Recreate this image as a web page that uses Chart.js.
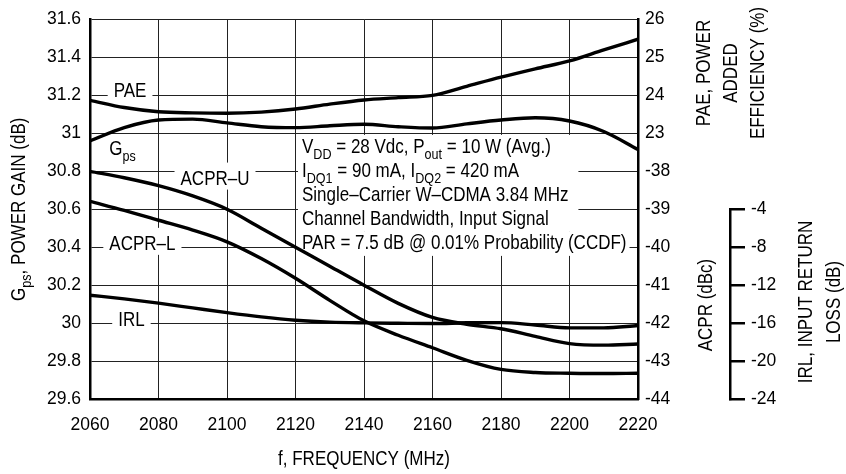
<!DOCTYPE html>
<html>
<head>
<meta charset="utf-8">
<script src="https://cdn.jsdelivr.net/npm/chart.js@4.4.1/dist/chart.umd.min.js"></script>
<style>
    html, body { margin: 0; padding: 0; background: #fff; }
    #wrap { width: 846px; height: 474px; position: relative; }
</style>
</head>
<body>
<div id="wrap"><canvas id="chart"></canvas></div>
<script>
// Frequency points (MHz)
const freqs = [2060, 2070, 2080, 2090, 2100, 2110, 2120, 2130, 2140, 2150, 2160, 2170, 2180, 2190, 2200, 2210, 2220];

// Series
const gps   = [30.96, 31.03, 31.07, 31.075, 31.055, 31.035, 31.03, 31.04, 31.048, 31.035, 31.028, 31.05, 31.07, 31.082, 31.065, 31.01, 30.915];
const pae   = [23.87, 23.68, 23.57, 23.54, 23.53, 23.56, 23.64, 23.77, 23.88, 23.94, 24.0, 24.24, 24.48, 24.7, 24.91, 25.2, 25.48];
const acprU = [-38.0, -38.17, -38.38, -38.65, -39.0, -39.5, -40.0, -40.5, -41.0, -41.48, -41.85, -42.03, -42.15, -42.35, -42.54, -42.58, -42.55];
const acprL = [-38.79, -39.03, -39.29, -39.55, -39.86, -40.3, -40.82, -41.4, -41.94, -42.32, -42.65, -42.98, -43.22, -43.3, -43.32, -43.33, -43.32];
const irl   = [-13.06, -13.45, -13.9, -14.4, -14.9, -15.35, -15.7, -15.9, -15.98, -16.02, -16.05, -15.97, -15.95, -16.2, -16.5, -16.5, -16.25];

// Tick labels shown on the right-hand axes
const paeTicks  = [23, 24, 25, 26];
const acprTicks = [-38, -39, -40, -41, -42, -43, -44];
const irlTicks  = [-4, -8, -12, -16, -20, -24];

const FONT = "'Liberation Sans', Arial, Helvetica, sans-serif";
const TICK_FONT = { family: FONT, size: 17.5 };
const TXT = 17;
const STRETCH = 1.16;   // original lettering is taller than it is wide

const pts = vals => freqs.map((f, i) => ({ x: f, y: vals[i] }));

// Curve labels: text centre (MHz) and baseline (Gps dB units)
const curveLabels = [
    { parts: [['PAE']], f: 2071.7, g: 31.194, bg: true },
    { parts: [['G'], ['ps', true]], f: 2069.5, g: 30.886, bg: false },
    { parts: [['ACPR\u2013U']], f: 2096.5, g: 30.730, bg: true },
    { parts: [['ACPR\u2013L']], f: 2075.3, g: 30.386, bg: true },
    { parts: [['IRL']], f: 2072.1, g: 29.985, bg: true }
];

const boxRows = [
    [['V'], ['DD', true], [' = 28 Vdc, P'], ['out', true], [' = 10 W (Avg.)']],
    [['I'], ['DQ1', true], [' = 90 mA, I'], ['DQ2', true], [' = 420 mA']],
    [['Single\u2013Carrier W\u2013CDMA 3.84 MHz']],
    [['Channel Bandwidth, Input Signal']],
    [['PAR = 7.5 dB @ 0.01% Probability (CCDF)']]
];
const boxAnchor = { f: 2121.9, g: 30.897, lineHeight: 24 };

function richWidth(ctx, parts, size) {
    let w = 0;
    parts.forEach(([t, sub]) => {
        ctx.font = (sub ? size * 0.74 : size) + 'px ' + FONT;
        w += ctx.measureText(t).width;
    });
    return w;
}

function drawRich(ctx, parts, x, y, size) {
    let cx = x;
    parts.forEach(([t, sub]) => {
        ctx.font = (sub ? size * 0.74 : size) + 'px ' + FONT;
        ctx.save();
        ctx.translate(cx, sub ? y + size * 0.33 : y);
        ctx.scale(1, STRETCH);
        ctx.fillText(t, 0, 0);
        ctx.restore();
        cx += ctx.measureText(t).width;
    });
}

// Rotated (bottom-to-top) text, centred at (cx, cy)
function drawVertical(ctx, parts, cx, cy, size) {
    ctx.save();
    ctx.translate(cx + size * 0.36 * STRETCH, cy);
    ctx.rotate(-Math.PI / 2);
    const w = richWidth(ctx, parts, size);
    drawRich(ctx, parts, -w / 2, 0, size);
    ctx.restore();
}

const notes = {
    id: 'notes',
    beforeDatasetsDraw(chart) {
        const ctx = chart.ctx;
        const xs = chart.scales.x, ys = chart.scales.y;
        ctx.save();
        ctx.fillStyle = '#fff';
        curveLabels.filter(l => l.bg).forEach(l => {
            const w = richWidth(ctx, l.parts, TXT);
            const cx = xs.getPixelForValue(l.f);
            const by = ys.getPixelForValue(l.g);
            ctx.fillRect(cx - w / 2 - 6, by - 22, w + 12, 27);
        });
        const x0 = xs.getPixelForValue(boxAnchor.f);
        const y0 = ys.getPixelForValue(boxAnchor.g);
        const lh = boxAnchor.lineHeight;
        const maxW = Math.max(...boxRows.slice(0, 4).map(r => richWidth(ctx, r, TXT)));
        const parW = richWidth(ctx, boxRows[4], TXT);
        ctx.fillRect(x0 - 4, y0 - 18, maxW + 14, 3 * lh + 25);
        ctx.fillRect(x0 - 4, y0 + 3 * lh + 7, parW + 7, lh);
        ctx.restore();
    },
    afterDatasetsDraw(chart) {
        const ctx = chart.ctx;
        const xs = chart.scales.x, ys = chart.scales.y;
        ctx.save();
        ctx.fillStyle = '#000';
        ctx.textBaseline = 'alphabetic';
        ctx.textAlign = 'left';
        curveLabels.forEach(l => {
            const w = richWidth(ctx, l.parts, TXT);
            drawRich(ctx, l.parts, xs.getPixelForValue(l.f) - w / 2, ys.getPixelForValue(l.g), TXT);
        });
        const x0 = xs.getPixelForValue(boxAnchor.f);
        const y0 = ys.getPixelForValue(boxAnchor.g);
        boxRows.forEach((r, i) => drawRich(ctx, r, x0, y0 + i * boxAnchor.lineHeight, TXT));
        ctx.restore();
    },
    afterDraw(chart) {
        const ctx = chart.ctx;
        const a = chart.chartArea;
        const irlScale = chart.scales.yIrl;
        ctx.save();
        ctx.fillStyle = '#000';
        ctx.textBaseline = 'alphabetic';
        ctx.textAlign = 'left';

        // IRL axis spine, only over its labelled range
        ctx.strokeStyle = '#000';
        ctx.lineWidth = 2.5;
        ctx.beginPath();
        ctx.moveTo(irlScale.left + 1.25, irlScale.getPixelForValue(irlTicks[0]) - 1.25);
        ctx.lineTo(irlScale.left + 1.25, irlScale.getPixelForValue(irlTicks[irlTicks.length - 1]) + 1.25);
        ctx.stroke();

        // axis titles
        drawVertical(ctx, [['G'], ['ps', true], [', POWER GAIN (dB)']], 18, (a.top + a.bottom) / 2, TXT);
        const bt = [['f, FREQUENCY (MHz)']];
        const bw = richWidth(ctx, bt, TXT);
        drawRich(ctx, bt, (a.left + a.right) / 2 - bw / 2, 465, TXT);

        drawVertical(ctx, [['PAE, POWER']], 703, 73, TXT);
        drawVertical(ctx, [['ADDED']], 730, 73, TXT);
        drawVertical(ctx, [['EFFICIENCY (%)']], 757, 73, TXT);
        drawVertical(ctx, [['ACPR (dBc)']], 705, 305, TXT);
        drawVertical(ctx, [['IRL, INPUT RETURN']], 805, 302, TXT);
        drawVertical(ctx, [['LOSS (dB)']], 833, 302, TXT);
        ctx.restore();
    }
};

new Chart(document.getElementById('chart'), {
    type: 'line',
    data: {
        datasets: [
            { label: 'Gps', data: pts(gps), yAxisID: 'y' },
            { label: 'PAE', data: pts(pae), yAxisID: 'yPae' },
            { label: 'ACPR-U', data: pts(acprU), yAxisID: 'yAcpr' },
            { label: 'ACPR-L', data: pts(acprL), yAxisID: 'yAcpr' },
            { label: 'IRL', data: pts(irl), yAxisID: 'yIrl' }
        ]
    },
    options: {
        responsive: true,
        maintainAspectRatio: false,
        animation: false,
        layout: { padding: { top: 15, left: 0, right: 0, bottom: 0 } },
        elements: {
            line: { borderColor: '#000', borderWidth: 3.4, cubicInterpolationMode: 'monotone', fill: false },
            point: { radius: 0 }
        },
        plugins: {
            legend: { display: false },
            tooltip: { enabled: false }
        },
        scales: {
            x: {
                type: 'linear',
                min: 2060,
                max: 2220,
                ticks: { stepSize: 20, color: '#000', font: TICK_FONT, padding: 16, callback: v => String(v) },
                grid: { color: '#222', lineWidth: 1, drawTicks: false },
                border: { color: '#000', width: 2.5 },
                afterFit: s => { s.height = 75; }
            },
            y: {
                position: 'left',
                min: 29.6,
                max: 31.6,
                ticks: { stepSize: 0.2, color: '#000', font: TICK_FONT, padding: 9, callback: v => String(Number(v.toFixed(1))) },
                grid: { color: '#222', lineWidth: 1, drawTicks: false },
                border: { color: '#000', width: 2.5 },
                afterFit: s => { s.width = 90; }
            },
            yAcpr: {
                position: 'right',
                weight: 0,
                min: -44,
                max: -34,
                ticks: {
                    stepSize: 1, color: '#000', font: TICK_FONT, padding: 7,
                    callback: v => acprTicks.includes(v) ? String(v) : (paeTicks.includes(v + 60) ? String(v + 60) : null)
                },
                grid: { drawOnChartArea: false, drawTicks: false },
                border: { color: '#000', width: 2.5 },
                afterFit: s => { s.width = 91; }
            },
            yPae: {
                display: false,
                position: 'right',
                min: 16,
                max: 26
            },
            yIrl: {
                position: 'right',
                weight: 1,
                min: -24,
                max: 16,
                ticks: {
                    stepSize: 4, color: '#000', font: TICK_FONT, padding: 6,
                    callback: v => irlTicks.includes(v) ? String(v) : null
                },
                grid: {
                    drawOnChartArea: false,
                    drawTicks: true,
                    tickLength: 16,
                    lineWidth: 2.5,
                    color: c => (c.tick && irlTicks.includes(c.tick.value)) ? '#000' : 'rgba(0,0,0,0)'
                },
                border: { display: false },
                afterFit: s => { s.width = 117; }
            }
        }
    },
    plugins: [notes]
});
</script>
</body>
</html>
